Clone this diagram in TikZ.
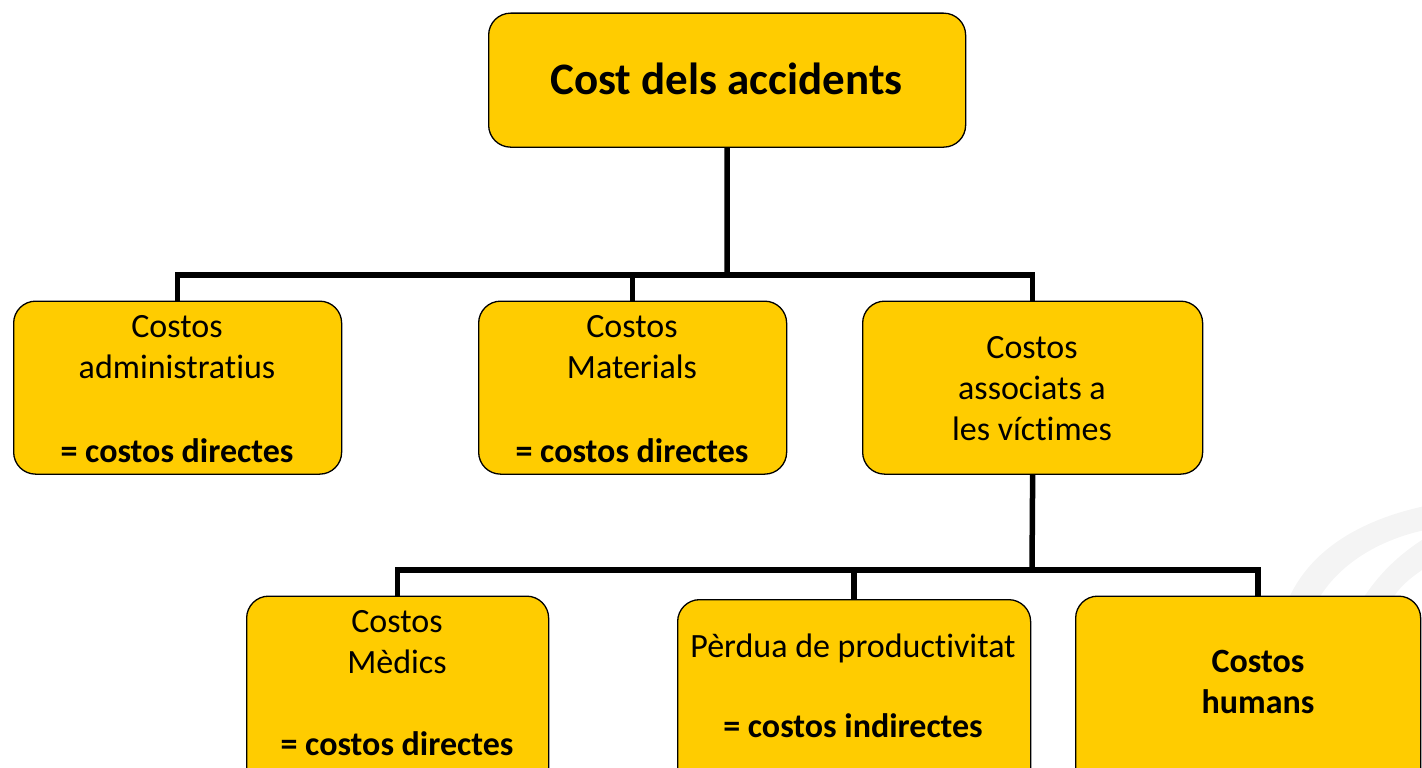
\documentclass[tikz,border=0pt]{standalone}
\usepackage{fontspec}
\setmainfont[Ligatures={NoCommon},RawFeature={-liga}]{Carlito}
\definecolor{boxyellow}{HTML}{FFCC00}
\definecolor{wm}{HTML}{F4F4F4}
\newcommand{\nl}{\kern0pt}
\begin{document}
\begin{tikzpicture}[x=1pt,y=-1pt,
  box/.style={draw=black, line width=1.3pt, fill=boxyellow, rounded corners=22pt, inner sep=0pt, anchor=north west},
  conn/.style={line width=5.5pt, line join=miter},
  txt/.style={anchor=base, inner sep=0pt, font=\fontsize{34}{40}\selectfont},
  btxt/.style={anchor=base, inner sep=0pt, font=\fontsize{34}{40}\selectfont\bfseries}]
\useasboundingbox (0,0) rectangle (1422,768);
\clip (0,0) rectangle (1422,768);
% faint watermark
\fill[wm] (1288,600) .. controls (1310,550) and (1360,520) .. (1425,506)
  -- (1425,530) .. controls (1378,540) and (1338,565) .. (1318,600) -- cycle;
\fill[wm] (1362,600) .. controls (1378,575) and (1398,555) .. (1425,538)
  -- (1425,568) .. controls (1410,578) and (1398,588) .. (1392,600) -- cycle;
% boxes
\node[box, minimum width=477pt, minimum height=134pt] (root) at (488,12.5) {};
\node[box, minimum width=328pt, minimum height=173pt] (a) at (13,300.5) {};
\node[box, minimum width=308pt, minimum height=173pt] (b) at (478,300.5) {};
\node[box, minimum width=340pt, minimum height=173pt] (c) at (862,300.5) {};
\node[box, minimum width=302pt, minimum height=210pt] (d) at (246,595.5) {};
\node[box, minimum width=353pt, minimum height=210pt] (e) at (677,599) {};
\node[box, minimum width=345pt, minimum height=210pt] (f) at (1075,595.5) {};
% connectors
\coordinate (j1) at (727,275);
\coordinate (j2) at (1032,570);
\coordinate (ftop) at (1258,595.5);
\draw[conn] (root.south) -- (j1);
\draw[conn] (a.north) -- (a.north |- j1) -- (c.north |- j1) -- (c.north);
\draw[conn] (b.north) -- (b.north |- j1);
\draw[conn] (c.south) -- (j2);
\draw[conn] (d.north) -- (d.north |- j2) -- (ftop |- j2) -- (ftop);
\draw[conn] (e.north) -- (e.north |- j2);
% texts
\node[anchor=base, inner sep=0pt, font=\fontsize{45}{54}\selectfont\bfseries] (t0) at (726.5,94.5) {Cost dels accidents};
\node[txt] (ta1) at (177,337) {Costos};
\node[txt] (ta2) at (177,378) {administrat\nl ius};
\node[btxt] (ta3) at (177,462) {= costos directes};
\node[txt] (tb1) at (632,337) {Costos};
\node[txt] (tb2) at (632,378) {Materials};
\node[btxt] (tb3) at (632,462) {= costos directes};
\node[txt] (tc1) at (1032,358) {Costos};
\node[txt] (tc2) at (1032,399) {associats a};
\node[txt] (tc3) at (1032,440) {les víct\nl imes};
\node[txt] (td1) at (397,632) {Costos};
\node[txt] (td2) at (397,673) {Mèdics};
\node[btxt] (td3) at (397,755) {= costos directes};
\node[txt] (te1) at (853,657) {Pèrdua de product\nl ivitat};
\node[btxt] (te2) at (853,737) {= costos indirectes};
\node[btxt] (tf1) at (1258,672) {Costos};
\node[btxt] (tf2) at (1258,713) {humans};
\end{tikzpicture}
\end{document}
